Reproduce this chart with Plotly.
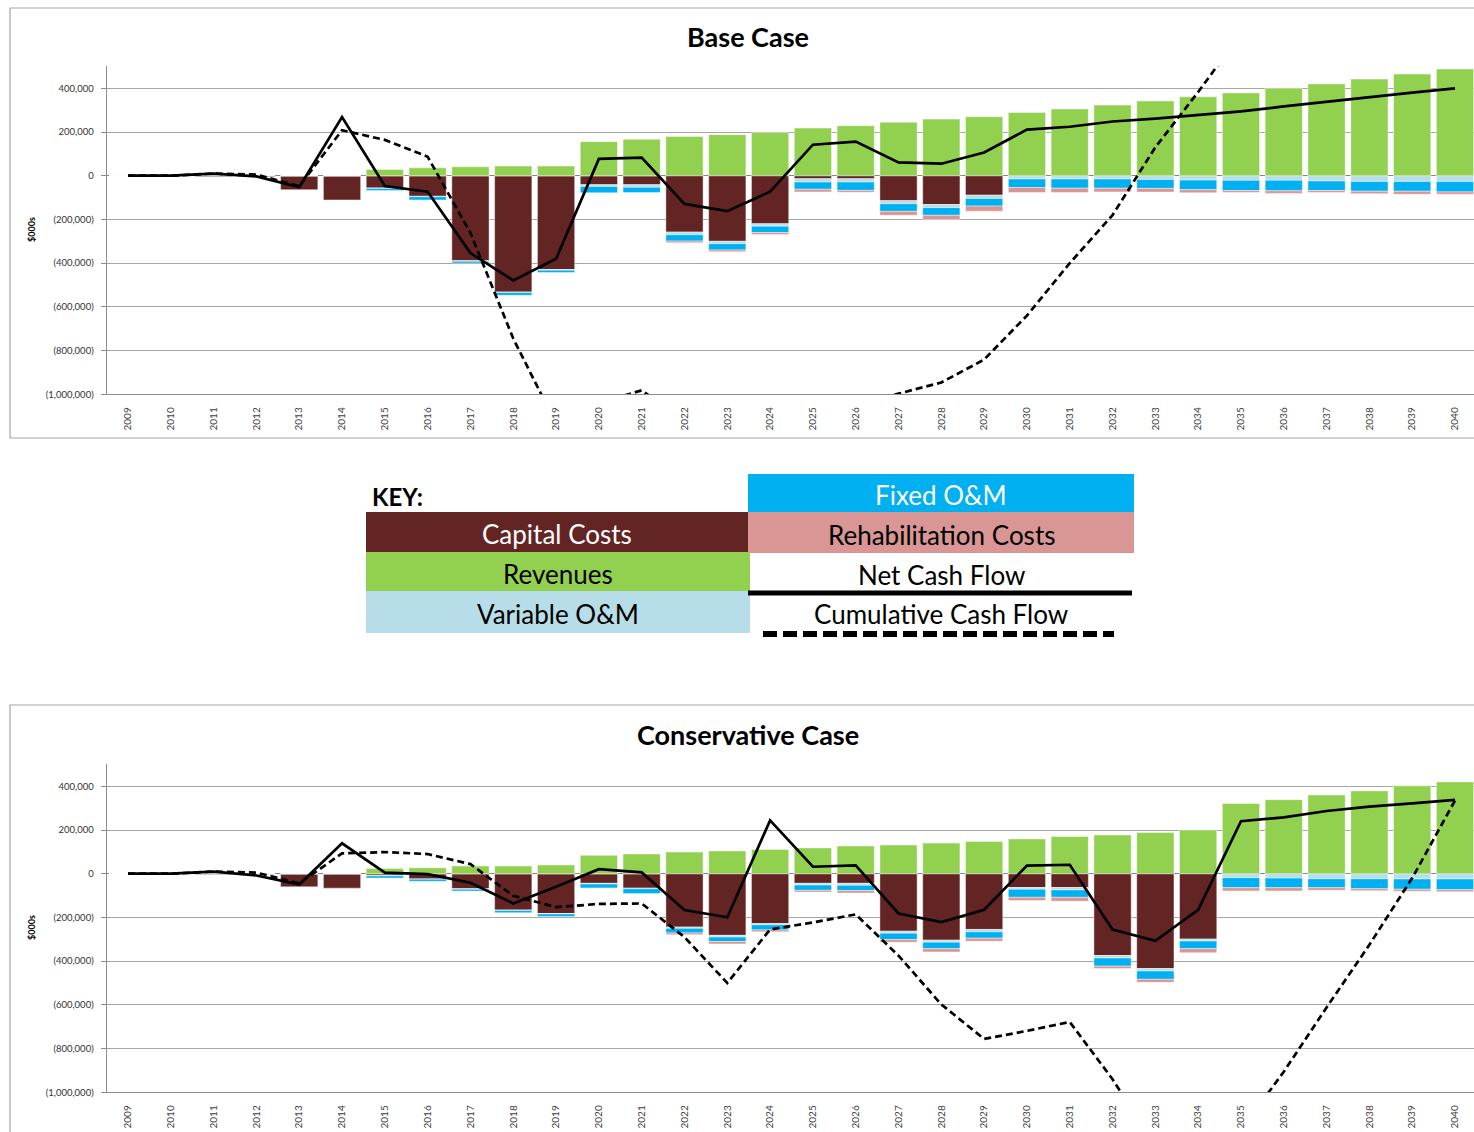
import plotly.graph_objects as go

W, H = 1474, 1132

years = [str(y) for y in range(2009, 2041)]

# ---------------- Base Case ($000s) ----------------
cap_base = [0, 0, -6, -6, -64, -111, -56, -94, -389, -532, -429, -41, -41, -258, -300, -220,
            -14, -14, -114, -132, -89, 0, 0, 0, 0, 0, 0, 0, 0, 0, 0, 0]
var_base = [0, 0, 0, 0, 0, 0, -2, -2, -2, -2, -3, -8, -12, -12, -11, -11,
            -15, -15, -14, -14, -15, -15, -15, -15, -17, -20, -21, -21, -24, -26, -26, -26]
fix_base = [0, 0, 0, 0, 0, 0, -10, -15, -8, -13, -11, -29, -24, -29, -29, -29,
            -33, -38, -35, -35, -35, -39, -42, -42, -41, -44, -47, -48, -44, -45, -45, -48]
reh_base = [0, 0, 0, 0, 0, 0, 0, 0, 0, 0, 0, 0, 0, -8, -8, -9,
            -12, -9, -18, -20, -23, -23, -20, -17, -17, -14, -9, -12, -9, -11, -14, -11]
rev_base = [0, 0, 0, 0, 0, 0, 29, 36, 41, 44, 44, 156, 167, 179, 188, 197,
            218, 229, 245, 259, 270, 289, 305, 323, 342, 361, 379, 400, 420, 442, 465, 488]
net_base = [0, 0, 10, -3, -53, 268, -47, -73, -354, -479, -380, 77, 83, -129, -162, -73,
            142, 156, 61, 55, 106, 211, 224, 248, 261, 279, 294, 317, 339, 359, 380, 400]
cum_base = [0, 0, 10, 5, -48, 208, 164, 87, -262, -745, -1135, -1040, -982, -1118, -1278, -1350,
            -1208, -1052, -997, -946, -841, -640, -400, -180, 130, 383, 650, 960, 1300, 1660, 2040, 2440]

# ---------------- Conservative Case ($000s) ----------------
cap_cons = [0, 0, -5, -3, -60, -66, -9, -24, -69, -166, -182, -44, -66, -244, -282, -228,
            -44, -44, -263, -304, -255, -63, -63, -374, -434, -299, 0, 0, 0, 0, 0, 0]
var_cons = [0, 0, 0, 0, 0, 0, -1, -1, -2, -2, -2, -3, -3, -6, -8, -6,
            -8, -9, -9, -9, -11, -8, -11, -12, -11, -9, -18, -20, -23, -23, -24, -24]
fix_cons = [0, 0, 0, 0, 0, 0, -10, -10, -8, -10, -12, -18, -22, -21, -20, -23,
            -24, -24, -29, -30, -29, -37, -34, -37, -38, -35, -46, -44, -41, -46, -47, -49]
reh_cons = [0, 0, 0, 0, 0, 0, 0, 0, 0, 0, 0, 0, 0, -8, -11, -9,
            -8, -11, -12, -15, -14, -15, -18, -11, -14, -18, -15, -15, -12, -9, -9, -9]
rev_cons = [0, 0, 0, 0, 0, 0, 24, 27, 35, 35, 40, 84, 90, 99, 104, 111,
            118, 127, 131, 140, 148, 159, 170, 177, 189, 200, 321, 339, 360, 379, 402, 420]
net_cons = [0, 0, 10, -8, -49, 139, 5, -2, -41, -136, -60, 21, 6, -166, -199, 244,
            32, 38, -182, -221, -165, 37, 41, -255, -307, -165, 240, 258, 287, 307, 322, 338]
cum_cons = [0, 0, 10, 5, -44, 93, 99, 90, 44, -101, -153, -138, -136, -290, -500, -255,
            -223, -186, -375, -598, -756, -719, -678, -940, -1247, -1412, -1172, -906, -612, -325, -20, 335]

ytick_vals = [400000, 200000, 0, -200000, -400000, -600000, -800000, -1000000]
ytick_text = ["400,000", "200,000", "0", "(200,000)", "(400,000)", "(600,000)", "(800,000)", "(1,000,000)"]

C_CAP = "#632523"
C_REV = "#92D050"
C_VAR = "#B7DEE8"
C_FIX = "#00B0F0"
C_REH = "#D99694"

FONT = "Lato, 'Open Sans', sans-serif"


def k(v):
    return [x * 1000 for x in v]


fig = go.Figure()


def add_case(cap, var, fix, reh, rev, net, cum, xa, ya):
    line = dict(color="rgba(255,255,255,0.55)", width=0.8)
    for vals, col, name in [(cap, C_CAP, "Capital Costs"), (var, C_VAR, "Variable O&M"),
                            (fix, C_FIX, "Fixed O&M"), (reh, C_REH, "Rehabilitation Costs"),
                            (rev, C_REV, "Revenues")]:
        fig.add_trace(go.Bar(x=years, y=k(vals), marker=dict(color=col, line=line),
                             name=name, xaxis=xa, yaxis=ya, showlegend=False))
    fig.add_trace(go.Scatter(x=years, y=k(net), mode="lines", line=dict(color="black", width=2.7),
                             name="Net Cash Flow", xaxis=xa, yaxis=ya, showlegend=False))
    fig.add_trace(go.Scatter(x=years, y=k(cum), mode="lines",
                             line=dict(color="black", width=2.7, dash="7px,4px"),
                             name="Cumulative Cash Flow", xaxis=xa, yaxis=ya, showlegend=False))


add_case(cap_base, var_base, fix_base, reh_base, rev_base, net_base, cum_base, "x", "y")
add_case(cap_cons, var_cons, fix_cons, reh_cons, rev_cons, net_cons, cum_cons, "x2", "y2")

xdom = [106.6 / W, 1.0]
xrange = [-0.5, 31.444]
yrange = [-1000000, 502000]


def px_y(p):
    return 1 - p / H


def px_x(p):
    return p / W


xcommon = dict(type="category", range=xrange, domain=xdom, tickangle=-90, automargin=False,
               tickfont=dict(family=FONT, size=10, color="#404040"), showgrid=False,
               ticklabelstandoff=8,
               showline=True, linecolor="#8C8C8C", ticks="", zeroline=False, fixedrange=True)
ycommon = dict(range=yrange, tickvals=ytick_vals, ticktext=ytick_text, automargin=False,
               tickfont=dict(family=FONT, size=9.5, color="#333333"), showgrid=True,
               gridcolor="#A6A6A6", gridwidth=1, showline=True, linecolor="#8C8C8C",
               ticklabelstandoff=5,
               ticks="outside", ticklen=5, tickcolor="#8C8C8C",
               zeroline=True, zerolinecolor="#868686", zerolinewidth=1.2, fixedrange=True)

fig.update_layout(
    width=W, height=H, margin=dict(l=0, r=0, t=0, b=0, autoexpand=False),
    paper_bgcolor="white", plot_bgcolor="white",
    barmode="relative", bargap=0.13,
    xaxis=dict(xcommon, anchor="y"),
    yaxis=dict(ycommon, domain=[px_y(394.3), px_y(66)], anchor="x"),
    xaxis2=dict(xcommon, anchor="y2"),
    yaxis2=dict(ycommon, domain=[px_y(1092.3), px_y(764)], anchor="x2"),
    font=dict(family=FONT),
)

shapes = []
annos = []

# chart borders
shapes.append(dict(type="rect", xref="paper", yref="paper", x0=px_x(10), x1=1.01,
                   y0=px_y(438), y1=px_y(8), line=dict(color="#A6A6A6", width=1.2)))
shapes.append(dict(type="rect", xref="paper", yref="paper", x0=px_x(10), x1=1.01,
                   y0=px_y(1145), y1=px_y(705), line=dict(color="#A6A6A6", width=1.2)))


def txt(text, x, y, size, color="black", xanchor="center", angle=0):
    annos.append(dict(text=text, x=px_x(x), y=px_y(y), xref="paper", yref="paper",
                      xanchor=xanchor, yanchor="middle", showarrow=False, textangle=angle,
                      font=dict(family=FONT, size=size, color=color)))


# titles
txt("<b>Base Case</b>", 748, 36, 27)
txt("<b>Conservative Case</b>", 748, 734, 27)
for yy in [230, 928]:
    txt("<b>$000s</b>", 31, yy, 9, angle=-90)

# key
key_cells = [
    (748, 1134, 474, 512, C_FIX, "Fixed O&M", "white"),
    (366, 748, 512, 552, C_CAP, "Capital Costs", "white"),
    (748, 1134, 512, 553, C_REH, "Rehabilitation Costs", "black"),
    (366, 750, 552, 591, C_REV, "Revenues", "black"),
    (366, 750, 591, 633, C_VAR, "Variable O&M", "black"),
]
for x0, x1, y0, y1, col, label, tcol in key_cells:
    shapes.append(dict(type="rect", xref="paper", yref="paper", x0=px_x(x0), x1=px_x(x1),
                       y0=px_y(y1), y1=px_y(y0), fillcolor=col, line=dict(width=0)))
    txt(label, (x0 + x1) / 2, (y0 + y1) / 2 + 2, 26, tcol)
txt("Net Cash Flow", 941, 575, 26)
txt("Cumulative Cash Flow", 941, 614, 26)
txt("<b>KEY:</b>", 370, 496, 24, xanchor="left")
shapes.append(dict(type="line", xref="paper", yref="paper", x0=px_x(748), x1=px_x(1132),
                   y0=px_y(593), y1=px_y(593), line=dict(color="black", width=5)))
shapes.append(dict(type="line", xref="paper", yref="paper", x0=px_x(763), x1=px_x(1114),
                   y0=px_y(634), y1=px_y(634), line=dict(color="black", width=6, dash="14px,6px")))

fig.update_layout(shapes=shapes, annotations=annos)

fig.write_html("out.html")
